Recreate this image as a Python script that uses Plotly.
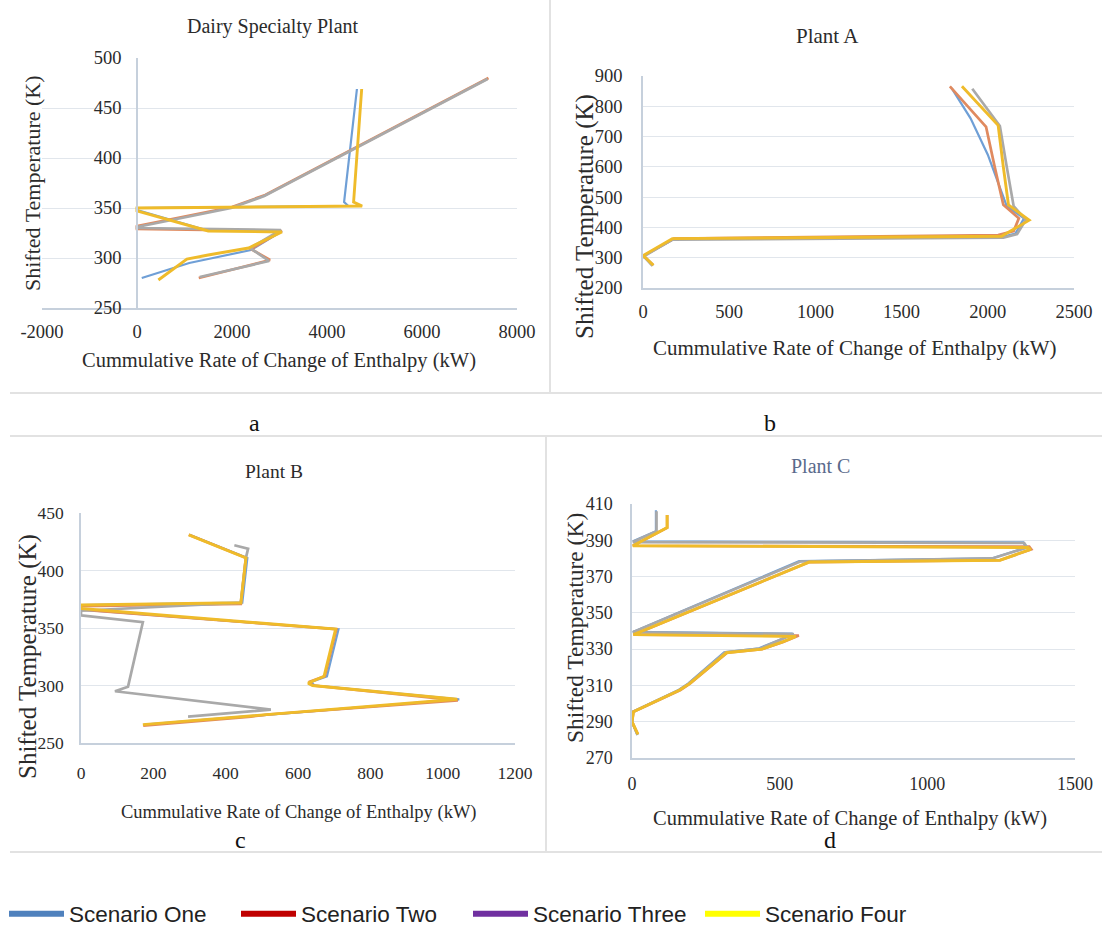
import plotly.graph_objects as go

W, H = 1102, 928

SCENARIOS = ["Scenario One", "Scenario Two", "Scenario Three", "Scenario Four"]
CURVE_COLORS = ["#6f9fd6", "#e08a5f", "#a9a9a9", "#efbb2a"]
CURVE_WIDTHS = [2.2, 2.7, 2.7, 2.9]
LEGEND_COLORS = ["#4f81bd", "#c00000", "#7030a0", "#ffff00"]

PANEL_TITLES = ["Dairy Specialty Plant", "Plant A", "Plant B", "Plant C"]
PANEL_LETTERS = ["a", "b", "c", "d"]
X_TITLE = "Cummulative Rate of Change of Enthalpy (kW)"
Y_TITLE = "Shifted Temperature (K)"

# ---- Dairy Specialty Plant: enthalpy (kW) / shifted temperature (K)
dairy_one_h = [4630, 4360, 4450, 0, 0, 1450, 3050, 2400, 1500, 1100, 100]
dairy_one_t = [469, 356, 352, 350, 348, 328, 327, 308, 299, 295, 280]
dairy_two_h = [7400, 2700, 2000, 0, 0, 3050, 2400, 2800, 1300]
dairy_two_t = [480, 363, 351, 332, 329, 327, 309, 298, 280]
dairy_three_h = [7380, 2680, 1980, 0, 0, 3030, 2380, 2780, 1320]
dairy_three_t = [479, 362, 350, 331, 330, 328, 310, 297, 281]
dairy_four_h = [4730, 4560, 4740, 0, 0, 1500, 3050, 2350, 1500, 1050, 450]
dairy_four_t = [469, 356, 352, 350, 347, 327, 326, 310, 303, 299, 278]

# ---- Plant A
plant_a_one_h = [1790, 1900, 2000, 2110, 2210, 2160, 2080, 180, 0, 15, 60]
plant_a_one_t = [860, 760, 640, 470, 430, 380, 368, 362, 305, 300, 275]
plant_a_two_h = [1780, 1990, 2040, 2090, 2180, 2150, 2060, 180, 0, 15, 60]
plant_a_two_t = [866, 732, 600, 475, 430, 388, 375, 363, 305, 300, 275]
plant_a_three_h = [1910, 2070, 2110, 2150, 2220, 2170, 2090, 170, 0, 15, 55]
plant_a_three_t = [858, 735, 600, 470, 425, 378, 366, 360, 303, 298, 273]
plant_a_four_h = [1850, 2060, 2090, 2120, 2240, 2080, 170, 0, 15, 60]
plant_a_four_t = [866, 737, 600, 474, 424, 371, 363, 307, 300, 275]

# ---- Plant B
plant_b_one_h = [300, 460, 446, 0, 0, 712, 680, 636, 646, 1046, 175]
plant_b_one_t = [431, 411, 372, 370, 366, 349, 308, 303, 300, 288, 266]
plant_b_two_h = [298, 456, 442, 0, 0, 706, 674, 630, 642, 1042, 525, 470, 172]
plant_b_two_t = [431, 411, 371, 369, 366, 349, 308, 303, 300, 287, 275, 273, 265]
plant_b_three_h = [424, 462, 456, 442, 0, 0, 171, 130, 94, 525, 296]
plant_b_three_t = [422, 419, 411, 372, 365, 361, 355, 299, 295, 279, 273]
plant_b_four_h = [298, 456, 442, 0, 0, 704, 672, 628, 640, 1040, 171]
plant_b_four_t = [431, 411, 372, 370, 367, 349, 308, 302, 300, 288, 266]

# ---- Plant C
plant_c_one_h = [81, 81, 3, 1325, 1335, 1217, 566, 3, 544, 499, 430, 312, 190, 158, 3, 0, 18]
plant_c_one_t = [406.5, 395, 389.4, 388.8, 386, 380, 378.5, 339.5, 338.5, 335, 330.5, 328.3, 311, 307.5, 295.5, 290, 282.6]
plant_c_two_h = [119, 119, 3, 1345, 1352, 1246, 600, 5, 565, 512, 440, 322, 196, 164, 5, 0, 20]
plant_c_two_t = [404, 397, 387, 386.5, 385, 379, 378, 338, 337.5, 334, 330, 328, 311, 307.5, 295.5, 290, 283]
plant_c_three_h = [83, 83, 3, 1328, 1338, 1220, 570, 3, 548, 502, 434, 316, 192, 160, 3, 0, 19]
plant_c_three_t = [406, 395, 389, 388.5, 386, 380, 378.3, 339.3, 338.3, 335, 330.3, 328.2, 311, 307.5, 295.5, 290, 282.8]
plant_c_four_h = [119, 119, 3, 1340, 1350, 1246, 600, 5, 555, 510, 440, 320, 195, 162, 5, 0, 20]
plant_c_four_t = [404, 397, 387, 386, 385, 379, 378, 338, 337, 334, 330, 328, 311, 307.5, 295.5, 290, 283]

# ---- axis ticks
dairy_xticks = [-2000, 0, 2000, 4000, 6000, 8000]
dairy_yticks = [250, 300, 350, 400, 450, 500]
plant_a_xticks = [0, 500, 1000, 1500, 2000, 2500]
plant_a_yticks = [200, 300, 400, 500, 600, 700, 800, 900]
plant_b_xticks = [0, 200, 400, 600, 800, 1000, 1200]
plant_b_yticks = [250, 300, 350, 400, 450]
plant_c_xticks = [0, 500, 1000, 1500]
plant_c_yticks = [270, 290, 310, 330, 350, 370, 390, 410]

SERIF = "Liberation Serif, Times New Roman, serif"
SANS = "Liberation Sans, Arial, sans-serif"
TEXT = "#2b2b2b"
GRID = "#e1e6ec"
AXIS = "#c6d0dc"


def px(x):
    return x / W


def py(y):
    return 1 - y / H


panels = [
    dict(curves=[(dairy_one_h, dairy_one_t), (dairy_two_h, dairy_two_t),
                 (dairy_three_h, dairy_three_t), (dairy_four_h, dairy_four_t)],
         xticks=dairy_xticks, yticks=dairy_yticks,
         box=(42, 517, 58, 308), yaxis_at=137,
         tick_size=18.5, x_standoff=6, y_standoff=11,
         title_size=20, title_pos=(273, 26), title_color=TEXT,
         xt_size=20.5, xt_pos=(279, 360), yt_size=22, yt_pos=(32, 183),
         letter_pos=(255, 423)),
    dict(curves=[(plant_a_one_h, plant_a_one_t), (plant_a_two_h, plant_a_two_t),
                 (plant_a_three_h, plant_a_three_t), (plant_a_four_h, plant_a_four_t)],
         xticks=plant_a_xticks, yticks=plant_a_yticks,
         box=(643, 1074, 76, 288), yaxis_at=None,
         tick_size=18.5, x_standoff=6, y_standoff=15,
         title_size=21, title_pos=(827, 36), title_color=TEXT,
         xt_size=21, xt_pos=(855, 348), yt_size=25, yt_pos=(585, 217),
         letter_pos=(770, 423)),
    dict(curves=[(plant_b_one_h, plant_b_one_t), (plant_b_two_h, plant_b_two_t),
                 (plant_b_three_h, plant_b_three_t), (plant_b_four_h, plant_b_four_t)],
         xticks=plant_b_xticks, yticks=plant_b_yticks,
         box=(81, 515, 513, 743), yaxis_at=None,
         tick_size=17.5, x_standoff=13, y_standoff=12,
         title_size=19.5, title_pos=(274, 471), title_color=TEXT,
         xt_size=18.5, xt_pos=(299, 812), yt_size=25, yt_pos=(28, 657),
         letter_pos=(240, 840)),
    dict(curves=[(plant_c_one_h, plant_c_one_t), (plant_c_two_h, plant_c_two_t),
                 (plant_c_three_h, plant_c_three_t), (plant_c_four_h, plant_c_four_t)],
         xticks=plant_c_xticks, yticks=plant_c_yticks,
         box=(632, 1075, 504, 758), yaxis_at=None,
         tick_size=18, x_standoff=9, y_standoff=14,
         title_size=20, title_pos=(820, 466), title_color="#5a6a8c",
         xt_size=20.5, xt_pos=(850, 818), yt_size=23.5, yt_pos=(575, 628),
         letter_pos=(830, 840)),
]

fig = go.Figure()
annotations = []
layout = {}

for i, p in enumerate(panels):
    n = "" if i == 0 else str(i + 1)
    xa, ya = "x" + n, "y" + n
    x0, x1, y0, y1 = p["box"]
    xt, yt = p["xticks"], p["yticks"]

    for k, (hv, tv) in enumerate(p["curves"]):
        fig.add_trace(go.Scatter(
            x=hv, y=tv, mode="lines", name=SCENARIOS[k], showlegend=False,
            line=dict(color=CURVE_COLORS[k], width=CURVE_WIDTHS[k]),
            xaxis=xa, yaxis=ya, hoverinfo="skip"))

    layout["xaxis" + n] = dict(
        domain=[px(x0), px(x1)], range=[xt[0], xt[-1]], anchor=ya,
        tickvals=xt, ticktext=[str(v) for v in xt],
        showgrid=False, zeroline=False, showline=True, linecolor=AXIS, linewidth=1.5,
        ticks="", ticklabelstandoff=p["x_standoff"],
        tickfont=dict(family=SERIF, size=p["tick_size"], color=TEXT),
        automargin=False, fixedrange=True)
    yax = dict(
        domain=[py(y1), py(y0)], range=[yt[0], yt[-1]],
        tickvals=yt, ticktext=[str(v) for v in yt],
        showgrid=True, gridcolor=GRID, gridwidth=1.3, zeroline=False,
        showline=True, linecolor=AXIS, linewidth=1.5, ticks="",
        ticklabelstandoff=p["y_standoff"],
        tickfont=dict(family=SERIF, size=p["tick_size"], color=TEXT),
        automargin=False, fixedrange=True)
    if p["yaxis_at"] is not None:
        yax.update(anchor="free", position=px(p["yaxis_at"]))
    else:
        yax.update(anchor=xa)
    layout["yaxis" + n] = yax

    tx, ty = p["title_pos"]
    annotations.append(dict(text=PANEL_TITLES[i], x=px(tx), y=py(ty), xref="paper", yref="paper",
                            showarrow=False, xanchor="center", yanchor="middle",
                            font=dict(family=SERIF, size=p["title_size"], color=p["title_color"])))
    ax_, ay_ = p["xt_pos"]
    annotations.append(dict(text=X_TITLE, x=px(ax_), y=py(ay_), xref="paper", yref="paper",
                            showarrow=False, xanchor="center", yanchor="middle",
                            font=dict(family=SERIF, size=p["xt_size"], color=TEXT)))
    bx, by = p["yt_pos"]
    annotations.append(dict(text=Y_TITLE, x=px(bx), y=py(by), xref="paper", yref="paper",
                            showarrow=False, xanchor="center", yanchor="middle", textangle=-90,
                            font=dict(family=SERIF, size=p["yt_size"], color=TEXT)))
    lx, ly = p["letter_pos"]
    annotations.append(dict(text=PANEL_LETTERS[i], x=px(lx), y=py(ly), xref="paper", yref="paper",
                            showarrow=False, xanchor="center", yanchor="middle",
                            font=dict(family=SERIF, size=24, color="#111111")))

# legend entries (scenario key)
for k, name in enumerate(SCENARIOS):
    fig.add_trace(go.Scatter(x=[None], y=[None], mode="lines", name=name,
                             line=dict(color=LEGEND_COLORS[k], width=6), showlegend=True))

# panel frames
frame = dict(type="line", xref="paper", yref="paper", line=dict(color="#e2e2e2", width=2))
shapes = [
    dict(frame, x0=px(10), x1=1, y0=py(393), y1=py(393)),
    dict(frame, x0=px(550), x1=px(550), y0=1, y1=py(393)),
    dict(frame, x0=px(10), x1=1, y0=py(436), y1=py(436)),
    dict(frame, x0=px(546), x1=px(546), y0=py(436), y1=py(852)),
    dict(frame, x0=px(10), x1=1, y0=py(852), y1=py(852)),
]

fig.update_layout(
    width=W, height=H, autosize=False,
    margin=dict(l=0, r=0, t=0, b=0, autoexpand=False),
    paper_bgcolor="white", plot_bgcolor="white",
    annotations=annotations, shapes=shapes,
    showlegend=True,
    legend=dict(orientation="h", x=px(4), y=py(914), xanchor="left", yanchor="middle",
                font=dict(family=SANS, size=22.5, color="#222222"),
                entrywidth=162, entrywidthmode="pixels", itemwidth=55,
                bgcolor="rgba(0,0,0,0)", itemclick=False, itemdoubleclick=False),
    **layout,
)

fig.write_html("out.html")
